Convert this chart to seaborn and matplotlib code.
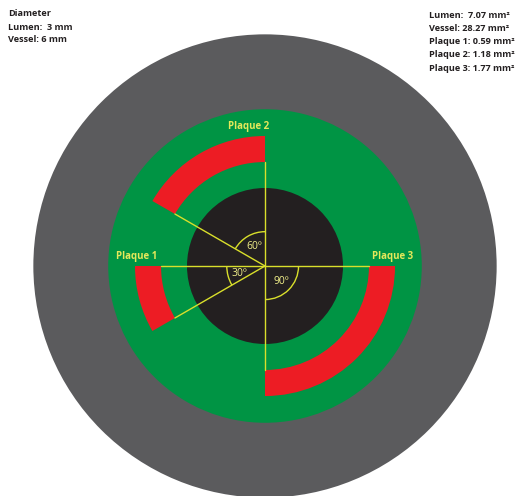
import matplotlib
matplotlib.use("Agg")
import matplotlib.pyplot as plt
from matplotlib.patches import Circle, Wedge, Arc
import numpy as np
import seaborn as sns

# ---- data ----
ring_names = ["Vessel", "Wall", "Lumen"]
ring_radii = [2.97, 2.01, 1.0]          # relative radii (lumen = 1)
ring_colors = ["#5b5b5d", "#009444", "#231f20"]

plaque_names = ["Plaque 1", "Plaque 2", "Plaque 3"]
plaque_start = [180, 90, 270]           # degrees
plaque_span = [30, 60, 90]              # degrees
plaque_inner = 1.333
plaque_outer = 1.667

spoke_angles = [0, 90, 150, 180, 210, 270]
angle_labels = ["30º", "60º", "90º"]

left_text = ["Diameter", "Lumen:  3 mm", "Vessel: 6 mm"]
right_text = ["Lumen:  7.07 mm²", "Vessel: 28.27 mm²", "Plaque 1: 0.59 mm²",
              "Plaque 2: 1.18 mm²", "Plaque 3: 1.77 mm²"]

sns.set_theme(style="white")
plt.rcParams['font.family'] = ['Open Sans', 'DejaVu Sans']

W, H = 520, 496
cx, cy, unit = 265, 266, 78.0
fig = plt.figure(figsize=(W / 100, H / 100), dpi=100)
ax = fig.add_axes([0, 0, 1, 1])
ax.set_xlim(-cx / unit, (W - cx) / unit)
ax.set_ylim(-(H - cy) / unit, cy / unit)
ax.set_aspect("equal")
ax.axis("off")

for r, c in zip(ring_radii, ring_colors):
    ax.add_patch(Circle((0, 0), r, color=c, lw=0, zorder=1))

red = "#ed1c24"
for s, sp in zip(plaque_start, plaque_span):
    ax.add_patch(Wedge((0, 0), plaque_outer, s, s + sp,
                       width=plaque_outer - plaque_inner, color=red, lw=0, zorder=2))

yel = "#d9df2b"
for a in spoke_angles:
    t = np.deg2rad(a)
    ax.plot([0, plaque_inner * np.cos(t)], [0, plaque_inner * np.sin(t)],
            color=yel, lw=1.0, zorder=3)

# angle arcs
arc_defs = [(180, 210, 0.49), (90, 150, 0.44), (270, 360, 0.43)]
for (t1, t2, r) in arc_defs:
    ax.add_patch(Arc((0, 0), 2 * r, 2 * r, theta1=t1, theta2=t2,
                     color=yel, lw=1.0, zorder=3))

lab_col = "#e4e85a"
def px(x, y):
    return (x - cx) / unit, (cy - y) / unit

for txt, (x, y) in zip(angle_labels, [(239, 273), (254, 247), (281, 282)]):
    ax.text(*px(x, y), txt, color="#f2f08a", fontsize=7.5, ha="center",
            va="center", zorder=4)

for txt, (x, y) in zip(plaque_names, [(137, 257), (249, 127), (393, 257)]):
    ax.text(*px(x, y), txt, color=lab_col, fontsize=7, fontweight="bold",
            ha="center", va="center", zorder=4)

for i, t in enumerate(left_text):
    fig.text(8 / W, 1 - (14 + 13 * i) / H, t, fontsize=6.6, fontweight="bold",
             color="#231f20", va="center", ha="left")
for i, t in enumerate(right_text):
    fig.text(429 / W, 1 - (15 + 13.3 * i) / H, t, fontsize=6.6, fontweight="bold",
             color="#231f20", va="center", ha="left")

fig.savefig("out.png", dpi=100, facecolor="white")
